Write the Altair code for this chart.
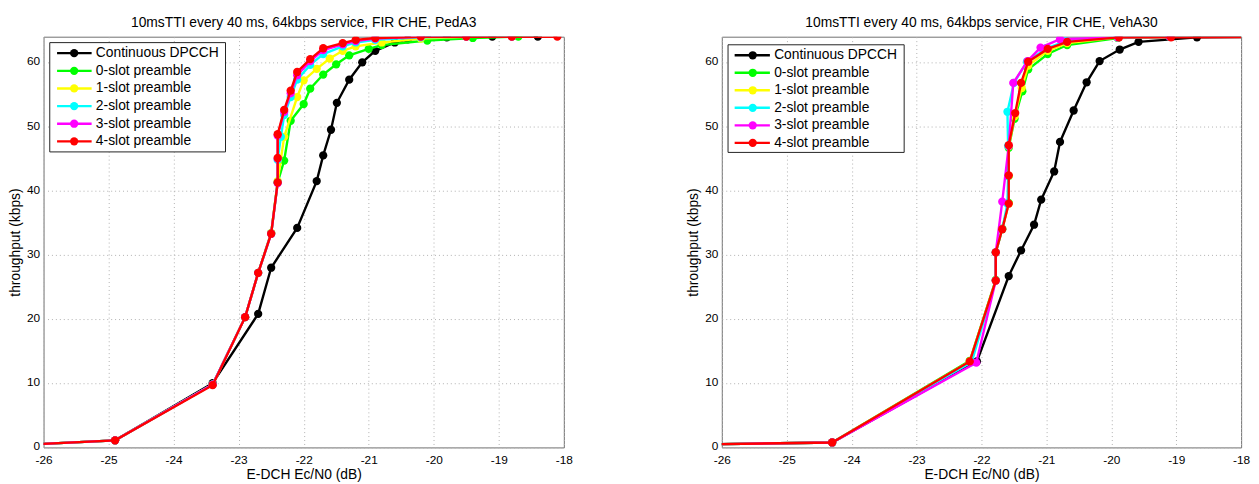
import altair as alt
import pandas as pd

FONT = "Liberation Sans"

SERIES = ["Continuous DPCCH", "0-slot preamble", "1-slot preamble",
          "2-slot preamble", "3-slot preamble", "4-slot preamble"]
COLORS = ["#000000", "#00ff00", "#ffff00", "#00ffff", "#ff00ff", "#ff0000"]
X_TICKS = [-26, -25, -24, -23, -22, -21, -20, -19, -18]
Y_TICKS = [0, 10, 20, 30, 40, 50, 60]
TITLE_L = "10msTTI every 40 ms, 64kbps service, FIR CHE, PedA3"
TITLE_R = "10msTTI every 40 ms, 64kbps service, FIR CHE, VehA30"
X_TITLE = "E-DCH Ec/N0 (dB)"
Y_TITLE = "throughput (kbps)"

# ---------------- left panel (PedA3) ----------------
L_CONT_X = [-27.0, -24.9, -23.4, -22.7, -22.5, -22.1, -21.8, -21.7, -21.58, -21.49,
            -21.3, -21.1, -20.9, -20.6, -20.4, -20.1, -19.8, -19.1, -18.4]
L_CONT_Y = [0.05, 1.1, 10.0, 20.8, 28.0, 34.2, 41.5, 45.5, 49.5, 53.7,
            57.3, 60.0, 61.8, 63.1, 63.6, 63.8, 63.9, 64.0, 64.0]
L_P0_X = [-27.0, -24.9, -23.4, -22.9, -22.7, -22.5, -22.4, -22.3, -22.2, -22.0,
          -21.9, -21.7, -21.5, -21.3, -21.0, -20.8, -20.1, -19.4, -18.7]
L_P0_Y = [0.05, 1.1, 9.8, 20.3, 27.2, 33.4, 41.3, 44.7, 50.9, 53.5,
          55.9, 58.1, 59.7, 61.1, 62.1, 62.7, 63.4, 63.8, 64.0]
L_P1_X = [-27.0, -24.9, -23.4, -22.9, -22.7, -22.5, -22.4, -22.3, -22.1, -22.0,
          -21.8, -21.6, -21.4, -21.2, -20.8, -20.2, -19.5, -18.8]
L_P1_Y = [0.05, 1.1, 9.8, 20.3, 27.2, 33.4, 41.5, 48.4, 54.6, 57.2,
          59.0, 60.6, 61.8, 62.5, 63.1, 63.7, 64.0, 64.0]
L_P2_X = [-27.0, -24.9, -23.4, -22.9, -22.7, -22.5, -22.4, -22.4, -22.35, -22.3,
          -22.2, -22.1, -21.9, -21.7, -21.4, -21.2, -20.9, -20.2, -19.5, -18.8]
L_P2_Y = [0.05, 1.1, 9.8, 20.3, 27.2, 33.3, 41.3, 44.8, 48.4, 51.8,
          54.6, 57.3, 59.6, 61.3, 62.5, 63.1, 63.5, 63.9, 64.0, 64.0]
L_P3_X = [-27.0, -24.9, -23.4, -22.9, -22.7, -22.5, -22.4, -22.4, -22.4, -22.3,
          -22.2, -22.1, -21.9, -21.7, -21.4, -21.2, -20.9, -20.2, -19.5, -18.8]
L_P3_Y = [0.05, 1.1, 9.8, 20.3, 27.2, 33.3, 41.2, 45.0, 48.6, 52.3,
          55.2, 58.0, 60.2, 61.9, 62.8, 63.3, 63.7, 64.0, 64.0, 64.0]
L_P4_X = [-27.0, -24.9, -23.4, -22.9, -22.7, -22.5, -22.4, -22.4, -22.4, -22.3,
          -22.2, -22.1, -21.9, -21.7, -21.4, -21.2, -20.9, -20.2, -19.5, -18.8, -18.1]
L_P4_Y = [0.05, 1.1, 9.7, 20.3, 27.2, 33.3, 41.3, 45.1, 48.8, 52.6,
          55.6, 58.5, 60.5, 62.2, 63.0, 63.5, 63.8, 64.0, 64.0, 64.0, 64.0]

# ---------------- right panel (VehA30) ----------------
R_CONT_X = [-27.0, -24.3, -22.07, -21.58, -21.39, -21.19, -21.08, -20.88, -20.79, -20.58,
            -20.38, -20.18, -19.87, -19.58, -18.68, -17.3]
R_CONT_Y = [0.35, 0.77, 13.4, 26.7, 30.7, 34.7, 38.6, 43.0, 47.6, 52.5,
            56.9, 60.2, 62.0, 63.2, 63.9, 64.0]
R_P0_X = [-27.0, -24.3, -22.18, -21.78, -21.78, -21.68, -21.58, -21.58, -21.58, -21.49,
          -21.37, -21.28, -20.98, -20.68, -19.9, -19.1, -17.3]
R_P0_Y = [0.35, 0.77, 13.5, 26.1, 30.4, 34.1, 38.1, 42.3, 46.7, 51.2,
          55.5, 58.9, 61.3, 62.7, 63.8, 64.0, 64.0]
R_P1_X = [-27.0, -24.3, -22.18, -21.78, -21.78, -21.68, -21.58, -21.58, -21.58, -21.49,
          -21.38, -21.28, -20.98, -20.68, -19.9, -19.1, -17.3]
R_P1_Y = [0.35, 0.77, 13.4, 26.0, 30.4, 34.0, 38.0, 42.3, 46.9, 51.6,
          56.0, 59.5, 61.8, 63.0, 63.9, 64.0, 64.0]
R_P2_X = [-27.0, -24.3, -22.15, -21.78, -21.78, -21.68, -21.6, -21.59, -21.59, -21.6,
          -21.5, -21.3, -21.0, -20.7, -19.9, -19.1, -17.3]
R_P2_Y = [0.35, 0.77, 13.3, 26.0, 30.4, 34.0, 38.0, 42.3, 47.0, 52.3,
          56.8, 60.1, 62.2, 63.3, 63.9, 64.0, 64.0]
R_P3_X = [-27.0, -24.3, -22.08, -21.78, -21.78, -21.68, -21.58, -21.51, -21.29,
          -21.09, -20.79, -19.9, -19.1, -17.3]
R_P3_Y = [0.35, 0.77, 13.2, 26.0, 30.4, 38.3, 47.0, 56.8, 60.2,
          62.3, 63.6, 63.9, 64.0, 64.0]
R_P4_X = [-27.0, -24.3, -22.18, -21.78, -21.78, -21.68, -21.58, -21.58, -21.58, -21.48,
          -21.39, -21.28, -20.98, -20.68, -19.88, -19.08, -17.3]
R_P4_Y = [0.35, 0.77, 13.4, 26.0, 30.4, 34.0, 38.0, 42.4, 47.1, 52.1,
          56.8, 60.1, 62.1, 63.2, 63.9, 63.9, 64.0]


def make_df(xs_list, ys_list):
    rows = []
    for name, xs, ys in zip(SERIES, xs_list, ys_list):
        for i, (x, y) in enumerate(zip(xs, ys)):
            rows.append({"series": name, "x": x, "y": y, "order": i})
    return pd.DataFrame(rows)


DF_L = make_df([L_CONT_X, L_P0_X, L_P1_X, L_P2_X, L_P3_X, L_P4_X],
               [L_CONT_Y, L_P0_Y, L_P1_Y, L_P2_Y, L_P3_Y, L_P4_Y])
DF_R = make_df([R_CONT_X, R_P0_X, R_P1_X, R_P2_X, R_P3_X, R_P4_X],
               [R_CONT_Y, R_P0_Y, R_P1_Y, R_P2_Y, R_P3_Y, R_P4_Y])
LEGEND_DF = pd.DataFrame({"series": SERIES})
BOX_DF = pd.DataFrame({"k": [0]})

color_enc = alt.Color("series:N", scale=alt.Scale(domain=SERIES, range=COLORS), legend=None)


def panel(df, title, width, rows_px, box, line_x, mark_x, text_x):
    x_enc = alt.X("x:Q", scale=alt.Scale(domain=[-26, -18], nice=False, zero=False),
                  axis=alt.Axis(values=X_TICKS, title=X_TITLE, labelExpr="'' + datum.value",
                                labelFlush=False, labelOverlap=False,
                                labelPadding=7.5, titlePadding=2))
    y_enc = alt.Y("y:Q", scale=alt.Scale(domain=[0, 64], nice=False, zero=True),
                  axis=alt.Axis(values=Y_TICKS, title=Y_TITLE, labelOverlap=False,
                                labelPadding=4, titlePadding=4, labelOffset=-1.5))
    layers = []
    for name in SERIES:
        base = alt.Chart(df).transform_filter(alt.datum.series == name)
        layers.append(base.mark_line(strokeWidth=2.4, clip=True).encode(
            x=x_enc, y=y_enc, color=color_enc, order="order:Q"))
        layers.append(base.mark_point(filled=True, size=70, opacity=1, clip=True).encode(
            x=x_enc, y=y_enc, color=color_enc))
    main = alt.layer(*layers)

    ly = alt.Y("series:N", scale=alt.Scale(type="point", domain=SERIES, range=rows_px, padding=0),
               axis=None)
    box_l = alt.Chart(BOX_DF).mark_rect(fill="white", stroke="#222222", strokeWidth=1).encode(
        x=alt.value(box[0]), x2=alt.value(box[1]), y=alt.value(box[2]), y2=alt.value(box[3]))
    rule_l = alt.Chart(LEGEND_DF).mark_rule(strokeWidth=2.4).encode(
        x=alt.value(line_x[0]), x2=alt.value(line_x[1]), y=ly, color=color_enc)
    pt_l = alt.Chart(LEGEND_DF).mark_point(filled=True, size=70, opacity=1).encode(
        x=alt.value(mark_x), y=ly, color=color_enc)
    tx_l = alt.Chart(LEGEND_DF).mark_text(align="left", baseline="middle", font=FONT,
                                          fontSize=14, color="black").encode(
        x=alt.value(text_x), y=ly, text="series:N")
    legend = alt.layer(box_l, rule_l, pt_l, tx_l)

    return alt.layer(main, legend).resolve_scale(y="independent").properties(
        width=width, height=416, title=alt.Title(title))


left = panel(DF_L, TITLE_L, 527, [16.7, 106.0], [6.3, 184.3, 6.0, 116.7], [13.7, 48.7], 31, 53)
right = panel(DF_R, TITLE_R, 526, [18.8, 107.5], [6.3, 184.7, 8.2, 117.2], [13.0, 48.7], 31.3, 53)

chart = alt.hconcat(left, right, spacing=114).properties(
    padding={"left": 0, "top": 4, "right": 0, "bottom": 0}
).configure_view(
    stroke="#6f6f6f", strokeWidth=1
).configure_axis(
    grid=True, gridColor="#b0b0b0", gridDash=[1, 3], gridWidth=1,
    domain=False, ticks=False,
    labelFont=FONT, labelFontSize=12, labelColor="black",
    titleFont=FONT, titleFontSize=14, titleFontWeight="normal", titleColor="black"
).configure_title(
    font=FONT, fontSize=14, fontWeight="normal", color="black", offset=7
)

chart.save("out.html", embed_options={"renderer": "svg", "actions": False})
